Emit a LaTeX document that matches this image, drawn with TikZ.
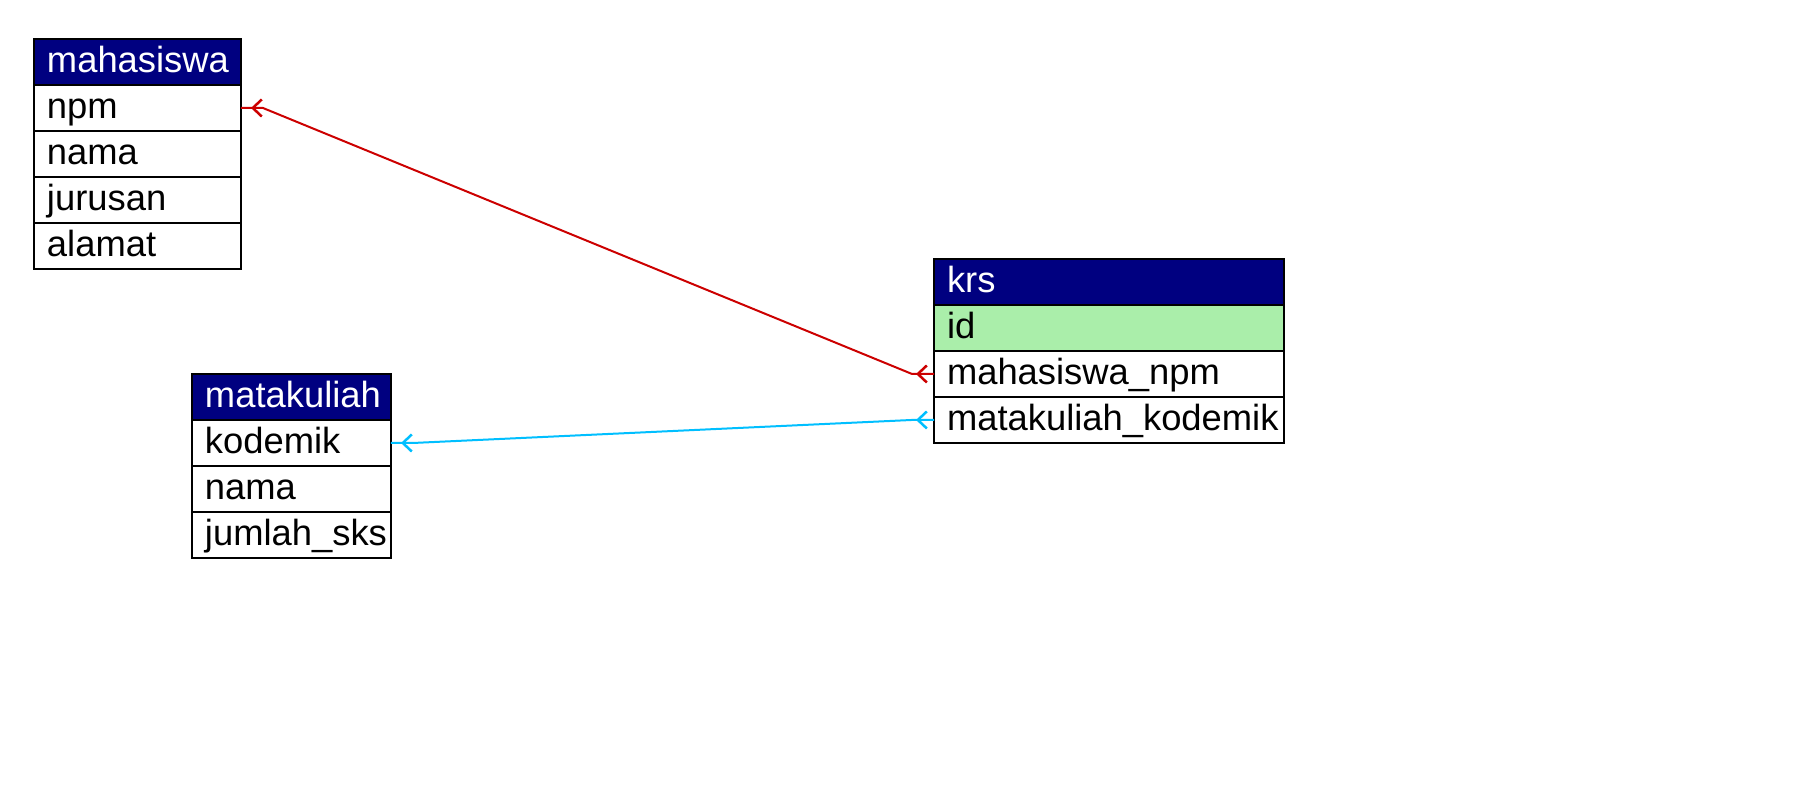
\documentclass[tikz,border=0pt]{standalone}
\usepackage{fontspec}
\setmainfont{Liberation Sans}
\usetikzlibrary{positioning,arrows.meta,decorations.markings}
\definecolor{hdrblue}{RGB}{0,0,128}
\definecolor{pkgreen}{RGB}{170,238,170}
\definecolor{fkred}{RGB}{204,0,0}
\definecolor{fkblue}{RGB}{0,191,255}

\begin{document}
\begin{tikzpicture}[x=0.02cm, y=-0.02cm,
    cell/.style={draw=black, line width=0.04cm, outer sep=0pt, inner xsep=0.26cm, inner ysep=0pt,
                 minimum height=0.92cm, align=left, font=\fontsize{20.7}{24}\selectfont,
                 execute at begin node={\rule[-6.5pt]{0pt}{25pt}}},
    hdr/.style={cell, fill=hdrblue, text=white},
    fld/.style={cell, fill=white},
    pk/.style={cell, fill=pkgreen},
    rel/.style={line width=0.04cm, postaction={decorate}, decoration={markings,
        mark=at position 0.36cm with {\arrow{Straight Barb[length=0.18cm,width=0.34cm,line width=0.05cm]}},
        mark=at position -0.2cm with {\arrow{Straight Barb[length=0.18cm,width=0.34cm,line width=0.05cm]}}}}]
            \useasboundingbox (0,0) rectangle (1793,800);

            \node[hdr, text width=3.62cm, anchor=north west] (mhs) at (34,39) {mahasiswa};
            \node[fld, text width=3.62cm, below=0pt of mhs] (mhs1) {npm};
            \node[fld, text width=3.62cm, below=0pt of mhs1] (mhs2) {nama};
            \node[fld, text width=3.62cm, below=0pt of mhs2] (mhs3) {jurusan};
            \node[fld, text width=3.62cm, below=0pt of mhs3] (mhs4) {alamat};

            \node[hdr, text width=3.46cm, anchor=north west] (mk) at (192,374) {matakuliah};
            \node[fld, text width=3.46cm, below=0pt of mk] (mk1) {kodemik};
            \node[fld, text width=3.46cm, below=0pt of mk1] (mk2) {nama};
            \node[fld, text width=3.46cm, below=0pt of mk2] (mk3) {jumlah\_sks};

            \node[hdr, text width=6.48cm, anchor=north west] (krs) at (934,259) {krs};
            \node[pk, text width=6.48cm, below=0pt of krs] (krs1) {id};
            \node[fld, text width=6.48cm, below=0pt of krs1] (krs2) {mahasiswa\_npm};
            \node[fld, text width=6.48cm, below=0pt of krs2] (krs3) {matakuliah\_kodemik};

            \draw[rel, fkred] (krs2.west) -- ([xshift=-0.44cm]krs2.west) -- ([xshift=0.44cm]mhs1.east) -- (mhs1.east);
            \draw[rel, fkblue] (krs3.west) -- ([xshift=-0.44cm]krs3.west) -- ([xshift=0.44cm]mk1.east) -- (mk1.east);
        \end{tikzpicture}
\end{document}
